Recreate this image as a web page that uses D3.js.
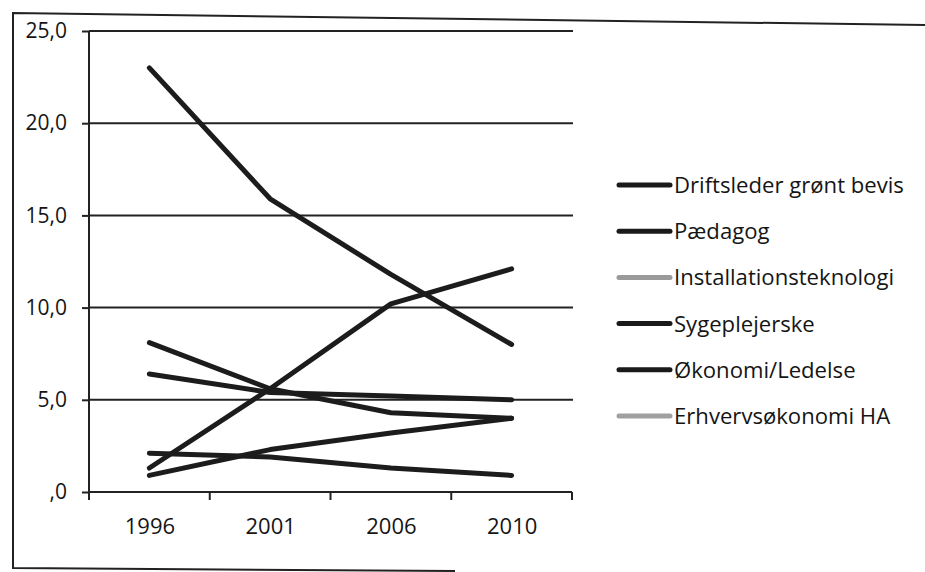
<!DOCTYPE html>
<html><head><meta charset="utf-8">
<script src="https://cdn.jsdelivr.net/npm/d3@7"></script>
<style>body{margin:0;background:#fff}svg{display:block}text{font-family:"Open Sans",Lato,sans-serif;fill:#151515}</style>
</head><body>
<script>
const years = ["1996","2001","2006","2010"];
const seriesNames = ["Driftsleder grønt bevis","Pædagog","Installationsteknologi","Sygeplejerske","Økonomi/Ledelse","Erhvervsøkonomi HA"];
const driftsleder = [23.0, 15.9, 11.8, 8.0];
const paedagog = [1.3, 5.6, 10.2, 12.1];
const installation = [8.1, 5.6, 4.3, 4.0];
const sygeplejerske = [6.4, 5.4, 5.2, 5.0];
const oekonomi = [2.1, 1.9, 1.3, 0.9];
const erhverv = [0.9, 2.3, 3.2, 4.0];
const legendColors = ["#1a1a1a","#1a1a1a","#9a9a9a","#1a1a1a","#1a1a1a","#a0a0a0"];
const yTicks = [0,5,10,15,20,25];
const yTickLabels = [",0","5,0","10,0","15,0","20,0","25,0"];
const allSeries = [driftsleder, paedagog, installation, sygeplejerske, oekonomi, erhverv];

const W=925,H=572;
const svg=d3.select("body").append("svg").attr("width",W).attr("height",H);
// outer frame
svg.append("path").attr("d","M925,25 L13,13 L13,568 L455,571").attr("fill","none").attr("stroke","#222").attr("stroke-width",2);

const x=d3.scalePoint().domain(years).range([89,572]).padding(0.5);
const y=d3.scaleLinear().domain([0,25]).range([492,31]);
const step=x.step();

// gridlines
svg.append("g").selectAll("line").data(yTicks.slice(1)).join("line")
 .attr("x1",89).attr("x2",573).attr("y1",d=>y(d)).attr("y2",d=>y(d))
 .attr("stroke","#222").attr("stroke-width",2);

// y axis
const yAxis=d3.axisLeft(y).tickValues(yTicks).tickSize(7).tickFormat((d,i)=>yTickLabels[i]);
const gy=svg.append("g").attr("transform","translate(89,0)").call(yAxis);
gy.select(".domain").attr("stroke","#222").attr("stroke-width",2).attr("d","M0,31V492");
gy.selectAll(".tick line").attr("stroke","#222").attr("stroke-width",2);
gy.selectAll(".tick text").attr("x",-22).style("font-size","21px").style("font-family","'Open Sans',sans-serif").attr("fill","#151515");

// x axis
const xAxis=d3.axisBottom(x).tickSize(0).tickPadding(26);
const gx=svg.append("g").attr("transform","translate(0,492)").call(xAxis);
gx.select(".domain").attr("stroke","#222").attr("stroke-width",2).attr("d","M89,0H572");
gx.selectAll(".tick text").style("font-size","22px").style("font-family","'Open Sans',sans-serif").attr("fill","#151515");
const bounds=[x(years[0])-step/2].concat(years.map(d=>x(d)+step/2));
gx.append("g").selectAll("line").data(bounds).join("line")
 .attr("x1",d=>d).attr("x2",d=>d).attr("y1",0).attr("y2",8).attr("stroke","#222").attr("stroke-width",2);

// lines
const line=d3.line().x((d,i)=>x(years[i])).y(d=>y(d));
svg.append("g").selectAll("path").data(allSeries).join("path")
 .attr("d",line).attr("fill","none").attr("stroke","#1c1c1c").attr("stroke-width",5)
 .attr("stroke-linecap","round").attr("stroke-linejoin","round");

// legend
const lg=svg.append("g");
const rows=lg.selectAll("g").data(seriesNames).join("g").attr("transform",(d,i)=>`translate(0,${185+i*46.2})`);
rows.append("line").attr("x1",619).attr("x2",670).attr("y1",0).attr("y2",0)
 .attr("stroke",(d,i)=>legendColors[i]).attr("stroke-width",5).attr("stroke-linecap","round");
const lt=rows.append("text").attr("x",674).attr("y",0).attr("dy","0.36em").style("font-size","20px").text(d=>d);
// fit font size so the first entry spans like the reference
const w0=lt.node().getComputedTextLength();
const fs=Math.max(16,Math.min(24,20*230/w0));
lt.style("font-size",fs+"px");
</script>
</body></html>
